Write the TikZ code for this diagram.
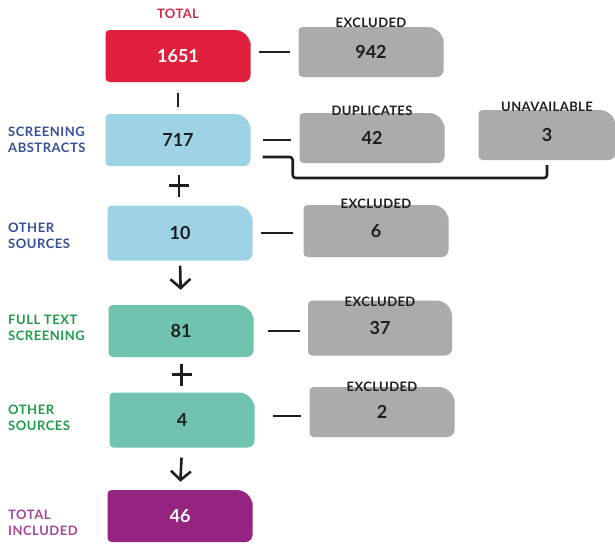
\documentclass[tikz,border=0pt]{standalone}
\usepackage{fontspec}
\setmainfont{Lato}
\usetikzlibrary{positioning,arrows.meta}

\definecolor{totred}{HTML}{E01F3D}
\definecolor{labred}{HTML}{D02A4A}
\definecolor{absblue}{HTML}{9ED3E6}
\definecolor{labblue}{HTML}{35509A}
\definecolor{fullteal}{HTML}{6FC3AF}
\definecolor{labgreen}{HTML}{1E9C48}
\definecolor{inclpurple}{HTML}{952380}
\definecolor{labpurple}{HTML}{A8459A}
\definecolor{exgray}{HTML}{ABABAB}
\definecolor{ink}{HTML}{1E1E1E}

\begin{document}
\begin{tikzpicture}[x=1pt,y=-1pt,
  stage/.style={rectangle,minimum width=145pt,minimum height=52pt,
    inner sep=0pt,font=\fontsize{18}{20}\selectfont\bfseries,text=ink,
    path picture={
      \coordinate (bb-w) at (path picture bounding box.west);
      \coordinate (bb-nw) at (path picture bounding box.north west);
      \coordinate (bb-n) at (path picture bounding box.north);
      \coordinate (bb-ne) at (path picture bounding box.north east);
      \coordinate (bb-e) at (path picture bounding box.east);
      \coordinate (bb-se) at (path picture bounding box.south east);
      \coordinate (bb-s) at (path picture bounding box.south);
      \coordinate (bb-sw) at (path picture bounding box.south west);
      \fill[#1] (bb-w) [rounded corners=4pt] -- (bb-nw) -- (bb-n)
        [rounded corners=16pt] -- (bb-ne) -- (bb-e)
        [rounded corners=7pt] -- (bb-se) -- (bb-s)
        [rounded corners=4pt] -- (bb-sw) -- cycle;}},
  exbox/.style={stage=exgray,minimum height=50pt},
  sidelab/.style={anchor=west,align=left,inner sep=0pt,
    font=\fontsize{13}{16}\selectfont\bfseries\addfontfeature{LetterSpace=4}},
  toplab/.style={inner sep=0pt,text=ink,
    font=\fontsize{13}{14}\selectfont\bfseries\addfontfeature{LetterSpace=3}},
  link/.style={line width=2.6pt,ink},
  down/.style={link,-{Straight Barb[length=9pt,width=20pt,line width=2.6pt]}}]

\useasboundingbox (0,0) rectangle (615,547);

% main column
\node[stage=totred,text=white] (total) at (178,56) {1651};
\node[stage=absblue] (screen) at (178,140) {717};
\node[stage=absblue,minimum height=55pt] (other1) at (180,233) {10};
\node[stage=fullteal] (full) at (181,331) {81};
\node[stage=fullteal,minimum height=55pt] (other2) at (182,420) {4};
\node[stage=inclpurple,text=white] (incl) at (180,516) {46};

% excluded records
\node[exbox] (excl1) at (371,52) {942};
\node[exbox] (dup) at (372,138) {42};
\node[exbox,minimum width=137pt] (unav) at (547,135) {3};
\node[exbox,minimum height=52pt] (excl2) at (376,231) {6};
\node[exbox,minimum width=144pt,minimum height=55pt] (excl3) at (380,328) {37};
\node[exbox] (excl4) at (382,412) {2};

\node[toplab,text=labred,above=11pt of total] (totlab) {TOTAL};
\node[toplab] at ([yshift=4pt]excl1.north) {EXCLUDED};
\node[toplab] at ([yshift=2pt]dup.north) {DUPLICATES};
\node[toplab] at ([yshift=3pt]unav.north) {UNAVAILABLE};
\node[toplab] at ([yshift=1pt]excl2.north) {EXCLUDED};
\node[toplab] at ([yshift=-1pt]excl3.north) {EXCLUDED};
\node[toplab] at ([yshift=0pt]excl4.north) {EXCLUDED};

\node[sidelab,text=labblue] (abslab) at (8,140) {SCREENING\\ABSTRACTS};
\node[sidelab,text=labblue] (oth1lab) at (8,236) {OTHER\\SOURCES};
\node[sidelab,text=labgreen] (fulllab) at (8,328) {FULL TEXT\\SCREENING};
\node[sidelab,text=labgreen] (oth2lab) at (8,418) {OTHER\\SOURCES};
\node[sidelab,text=labpurple] (incllab) at (8,523) {TOTAL\\INCLUDED};

% connectors
\draw[link,shorten <=8pt,shorten >=8pt] (total.east |- excl1) -- (excl1.west);
\draw[link,shorten <=11pt,shorten >=7pt] (total.south) -- (screen.north);
\draw[link,shorten <=12pt,shorten >=8pt] (screen.east) -- (screen.east -| dup.west);
\draw[link,rounded corners=3pt,shorten >=5pt] ([shift={(12,17)}]screen.east) -- ++(30,0) -- ++(0,21) -| (unav.south);
\draw[link,shorten <=8pt,shorten >=10pt] (other1.east) -- (other1.east -| excl2.west);
\draw[link,shorten <=14pt,shorten >=8pt] (full.east) -- (full.east -| excl3.west);
\draw[link,shorten <=18pt,shorten >=8pt] ([yshift=4pt]other2.east) -- ([yshift=4pt]other2.east -| excl4.west);

\path (screen.south) -- (other1.north) coordinate[midway] (plus1);
\draw[link] (plus1) ++(-10,0) -- ++(20,0) (plus1) ++(0,-11) -- ++(0,22);
\path (full.south) -- (other2.north) coordinate[midway] (plus2);
\draw[link] (plus2) ++(-10,0) -- ++(20,0) (plus2) ++(0,-11) -- ++(0,22);

\draw[down,shorten <=5pt,shorten >=15pt] (other1.south) -- (full.north);
\draw[down,shorten <=10pt,shorten >=8pt] (other2.south) -- (incl.north);

\end{tikzpicture}
\end{document}
